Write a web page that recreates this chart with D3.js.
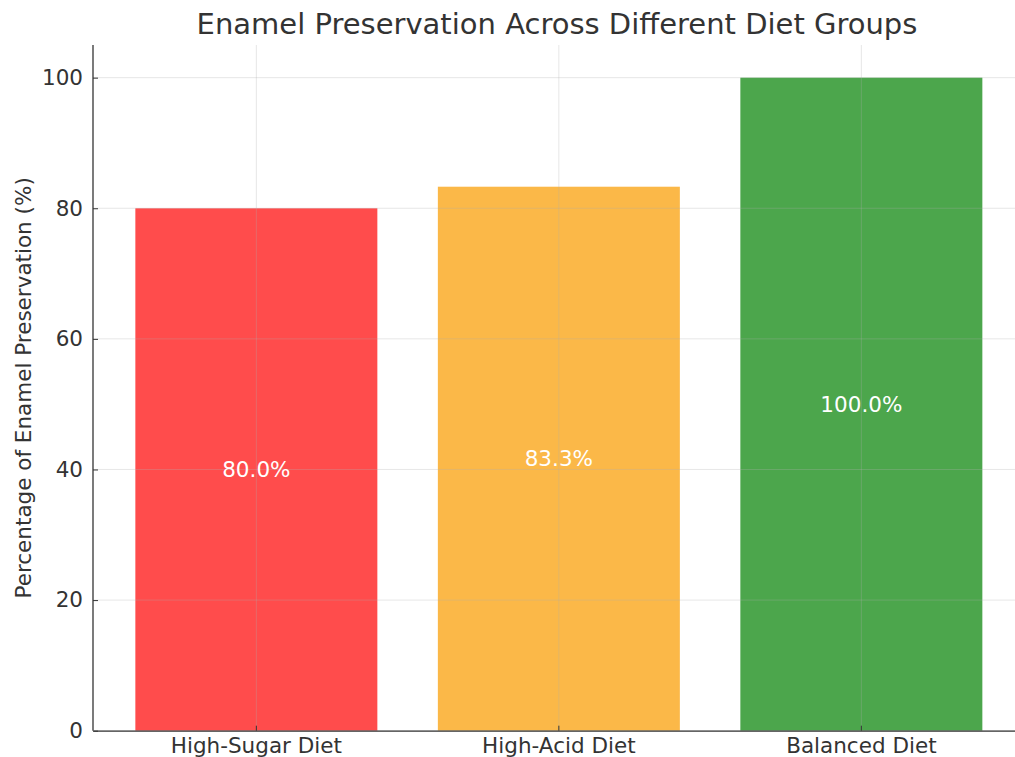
<!DOCTYPE html>
<html>
<head>
<meta charset="utf-8">
<script src="https://cdn.jsdelivr.net/npm/d3@7"></script>
<style>
  html, body { margin: 0; padding: 0; background: #fff; }
  svg { display: block; font-family: "DejaVu Sans", sans-serif; }
</style>
</head>
<body>
<svg id="chart" width="1015" height="757"></svg>
<script>
const categories = ["High-Sugar Diet", "High-Acid Diet", "Balanced Diet"];
const values = [80.0, 83.3, 100.0];
const barColors = ["#FF4C4C", "#FBB848", "#4CA64C"];
const yTicks = [0, 20, 40, 60, 80, 100];
const titleText = "Enamel Preservation Across Different Diet Groups";
const yLabelText = "Percentage of Enamel Preservation (%)";

(function () {
const svg = d3.select("#chart");
const mLeft = 93, mBottom = 730.7, mTop = 45, mRight = 1024.7;

const x = d3.scaleBand().domain(categories).range([mLeft, mRight])
  .paddingInner(0.2).paddingOuter(0.14);
const y = d3.scaleLinear().domain([0, 105]).range([mBottom, mTop]);

// bars
svg.append("g").selectAll("rect").data(categories).join("rect")
  .attr("x", d => x(d))
  .attr("y", (d, i) => y(values[i]))
  .attr("width", x.bandwidth())
  .attr("height", (d, i) => y(0) - y(values[i]))
  .attr("fill", (d, i) => barColors[i]);

// grid (on top of bars)
const grid = svg.append("g").attr("stroke", "#b0b0b0").attr("stroke-opacity", 0.3).attr("stroke-width", 1);
grid.selectAll("line.h").data(yTicks).join("line").attr("class", "h")
  .attr("x1", mLeft).attr("x2", mRight)
  .attr("y1", d => y(d)).attr("y2", d => y(d));
grid.selectAll("line.v").data(categories).join("line").attr("class", "v")
  .attr("x1", d => x(d) + x.bandwidth() / 2).attr("x2", d => x(d) + x.bandwidth() / 2)
  .attr("y1", mTop).attr("y2", mBottom);

// value labels
svg.append("g").selectAll("text").data(categories).join("text")
  .attr("x", d => x(d) + x.bandwidth() / 2)
  .attr("y", (d, i) => y(values[i] / 2))
  .attr("dy", "0.35em")
  .attr("text-anchor", "middle")
  .attr("fill", "#ffffff")
  .attr("font-size", 21.5)
  .text((d, i) => values[i].toFixed(1) + "%");

// axes
const yAxis = d3.axisLeft(y).tickValues(yTicks).tickSizeInner(-5).tickSizeOuter(0).tickPadding(10);
const gy = svg.append("g").attr("transform", `translate(${mLeft},0)`).call(yAxis);
gy.select(".domain").attr("d", `M0,${mTop}V${mBottom}`);
const xAxis = d3.axisBottom(x).tickSizeInner(-5).tickSizeOuter(0).tickPadding(7);
const gx = svg.append("g").attr("transform", `translate(0,${mBottom})`).call(xAxis);
[gx, gy].forEach(g => {
  g.select(".domain").attr("stroke", "#333").attr("stroke-width", 1.3);
  g.selectAll(".tick line").attr("stroke", "#333").attr("stroke-width", 1);
  g.selectAll(".tick text").attr("fill", "#333").attr("font-size", 21.5)
    .attr("font-family", "DejaVu Sans, sans-serif");
});
gx.selectAll(".tick text").attr("dy", "0.71em");

// title
svg.append("text").attr("x", 557).attr("y", 34).attr("text-anchor", "middle")
  .attr("fill", "#333").attr("font-size", 29).text(titleText);

// y label
svg.append("text")
  .attr("transform", `translate(31,${(mTop + mBottom) / 2}) rotate(-90)`)
  .attr("text-anchor", "middle").attr("fill", "#333").attr("font-size", 21.5)
  .text(yLabelText);
})();
</script>
</body>
</html>
